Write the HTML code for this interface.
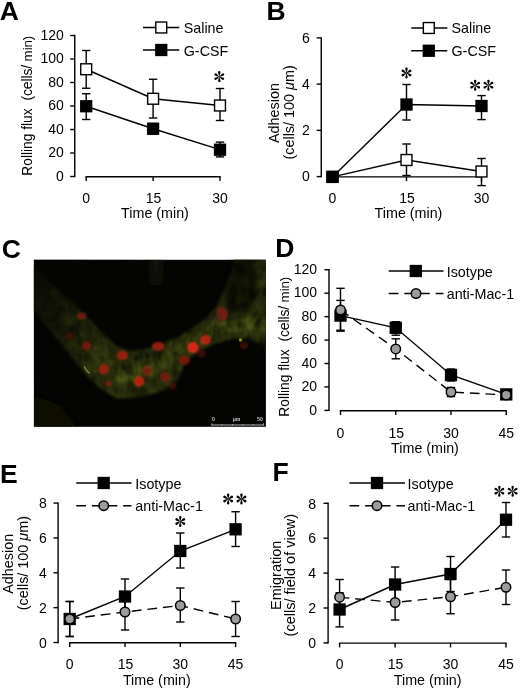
<!DOCTYPE html>
<html><head><meta charset="utf-8"><title>Figure</title>
<style>
html,body{margin:0;padding:0;background:#fff;}
svg{display:block;font-family:"Liberation Sans",sans-serif;}
text{stroke:none;fill:#000;}
</style></head><body>
<svg width="520" height="690" viewBox="0 0 520 690" style="opacity:0.999">
<rect width="520" height="690" fill="#fff"/>
<g stroke="#000" stroke-width="1.4" fill="#000">
<g stroke="none">
</g>
<text x="-0.30" y="19.60" font-size="26.5" font-weight="bold">A</text>
<line x1="74.75" y1="34.80" x2="74.75" y2="177.20" />
<line x1="70.15" y1="35.50" x2="74.75" y2="35.50" />
<text x="63.75" y="39.70" text-anchor="end" font-size="14" >120</text>
<line x1="70.15" y1="59.00" x2="74.75" y2="59.00" />
<text x="63.75" y="63.20" text-anchor="end" font-size="14" >100</text>
<line x1="70.15" y1="82.50" x2="74.75" y2="82.50" />
<text x="63.75" y="86.70" text-anchor="end" font-size="14" >80</text>
<line x1="70.15" y1="106.00" x2="74.75" y2="106.00" />
<text x="63.75" y="110.20" text-anchor="end" font-size="14" >60</text>
<line x1="70.15" y1="129.50" x2="74.75" y2="129.50" />
<text x="63.75" y="133.70" text-anchor="end" font-size="14" >40</text>
<line x1="70.15" y1="153.00" x2="74.75" y2="153.00" />
<text x="63.75" y="157.20" text-anchor="end" font-size="14" >20</text>
<line x1="70.15" y1="176.50" x2="74.75" y2="176.50" />
<text x="63.75" y="180.70" text-anchor="end" font-size="14" >0</text>
<line x1="85.50" y1="176.80" x2="220.70" y2="176.80" />
<line x1="86.20" y1="176.80" x2="86.20" y2="181.10" />
<text x="86.20" y="203.00" text-anchor="middle" font-size="14" >0</text>
<line x1="153.10" y1="176.80" x2="153.10" y2="181.10" />
<text x="153.60" y="203.00" text-anchor="middle" font-size="14" >15</text>
<line x1="220.00" y1="176.80" x2="220.00" y2="181.10" />
<text x="220.00" y="203.00" text-anchor="middle" font-size="14" >30</text>
<text x="155.00" y="217.50" text-anchor="middle" font-size="14.3" >Time (min)</text>
<text transform="translate(32.00,175.70) rotate(-90)" text-anchor="start" font-size="13.75" >Rolling flux&#160;<tspan dx="4" font-size="14" letter-spacing="-0.13">(cells/</tspan><tspan font-size="13.4" letter-spacing="-0.13"> min)</tspan></text>
<line x1="86.20" y1="50.50" x2="86.20" y2="88.25" />
<line x1="82.00" y1="50.50" x2="90.40" y2="50.50" />
<line x1="82.00" y1="88.25" x2="90.40" y2="88.25" />
<line x1="153.10" y1="79.25" x2="153.10" y2="118.00" />
<line x1="148.90" y1="79.25" x2="157.30" y2="79.25" />
<line x1="148.90" y1="118.00" x2="157.30" y2="118.00" />
<line x1="220.00" y1="88.50" x2="220.00" y2="120.50" />
<line x1="215.80" y1="88.50" x2="224.20" y2="88.50" />
<line x1="215.80" y1="120.50" x2="224.20" y2="120.50" />
<polyline points="86.20,69.25 153.10,98.75 220.00,105.50" fill="none"/>
<rect x="80.75" y="63.80" width="10.90" height="10.90" fill="#fff" stroke="#000" stroke-width="1.4"/>
<rect x="147.65" y="93.30" width="10.90" height="10.90" fill="#fff" stroke="#000" stroke-width="1.4"/>
<rect x="214.55" y="100.05" width="10.90" height="10.90" fill="#fff" stroke="#000" stroke-width="1.4"/>
<line x1="86.20" y1="93.75" x2="86.20" y2="119.50" />
<line x1="82.00" y1="93.75" x2="90.40" y2="93.75" />
<line x1="82.00" y1="119.50" x2="90.40" y2="119.50" />
<line x1="153.10" y1="123.50" x2="153.10" y2="134.00" />
<line x1="148.90" y1="123.50" x2="157.30" y2="123.50" />
<line x1="148.90" y1="134.00" x2="157.30" y2="134.00" />
<line x1="220.00" y1="142.10" x2="220.00" y2="156.90" />
<line x1="215.80" y1="142.10" x2="224.20" y2="142.10" />
<line x1="215.80" y1="156.90" x2="224.20" y2="156.90" />
<polyline points="86.20,106.25 153.10,128.75 220.00,149.70" fill="none"/>
<rect x="80.05" y="100.10" width="12.30" height="12.30" fill="#000" stroke="none"/>
<rect x="146.95" y="122.60" width="12.30" height="12.30" fill="#000" stroke="none"/>
<rect x="213.85" y="143.55" width="12.30" height="12.30" fill="#000" stroke="none"/>
<line x1="143.00" y1="27.50" x2="179.25" y2="27.50" />
<rect x="155.80" y="22.05" width="10.90" height="10.90" fill="#fff" stroke="#000" stroke-width="1.4"/>
<text x="183.75" y="32.80" text-anchor="start" font-size="14.3" >Saline</text>
<line x1="143.00" y1="50.00" x2="179.25" y2="50.00" />
<rect x="155.10" y="43.85" width="12.30" height="12.30" fill="#000" stroke="none"/>
<text x="183.75" y="55.50" text-anchor="start" font-size="14.3" >G-CSF</text>
<g transform="translate(219.30,76.60) scale(1.0)" stroke="none" fill="#000"><path d="M0,0.3 C-0.35,-1.4 -1.2,-3.2 -1.2,-4.3 A1.2,1.2 0 1,1 1.2,-4.3 C1.2,-3.2 0.35,-1.4 0,0.3 Z" transform="rotate(0)"/><path d="M0,0.3 C-0.35,-1.4 -1.2,-3.2 -1.2,-4.3 A1.2,1.2 0 1,1 1.2,-4.3 C1.2,-3.2 0.35,-1.4 0,0.3 Z" transform="rotate(60)"/><path d="M0,0.3 C-0.35,-1.4 -1.2,-3.2 -1.2,-4.3 A1.2,1.2 0 1,1 1.2,-4.3 C1.2,-3.2 0.35,-1.4 0,0.3 Z" transform="rotate(120)"/><path d="M0,0.3 C-0.35,-1.4 -1.2,-3.2 -1.2,-4.3 A1.2,1.2 0 1,1 1.2,-4.3 C1.2,-3.2 0.35,-1.4 0,0.3 Z" transform="rotate(180)"/><path d="M0,0.3 C-0.35,-1.4 -1.2,-3.2 -1.2,-4.3 A1.2,1.2 0 1,1 1.2,-4.3 C1.2,-3.2 0.35,-1.4 0,0.3 Z" transform="rotate(240)"/><path d="M0,0.3 C-0.35,-1.4 -1.2,-3.2 -1.2,-4.3 A1.2,1.2 0 1,1 1.2,-4.3 C1.2,-3.2 0.35,-1.4 0,0.3 Z" transform="rotate(300)"/></g>
<text x="266.40" y="20.20" font-size="26.5" font-weight="bold">B</text>
<line x1="321.25" y1="37.20" x2="321.25" y2="177.30" />
<line x1="316.65" y1="37.90" x2="321.25" y2="37.90" />
<text x="309.85" y="42.60" text-anchor="end" font-size="14" >6</text>
<line x1="316.65" y1="84.13" x2="321.25" y2="84.13" />
<text x="309.85" y="88.83" text-anchor="end" font-size="14" >4</text>
<line x1="316.65" y1="130.36" x2="321.25" y2="130.36" />
<text x="309.85" y="135.06" text-anchor="end" font-size="14" >2</text>
<line x1="316.65" y1="176.59" x2="321.25" y2="176.59" />
<text x="309.85" y="181.29" text-anchor="end" font-size="14" >0</text>
<line x1="331.80" y1="176.90" x2="482.20" y2="176.90" />
<line x1="332.50" y1="176.90" x2="332.50" y2="181.20" />
<text x="332.50" y="203.40" text-anchor="middle" font-size="14" >0</text>
<line x1="406.50" y1="176.90" x2="406.50" y2="181.20" />
<text x="407.00" y="203.40" text-anchor="middle" font-size="14" >15</text>
<line x1="481.50" y1="176.90" x2="481.50" y2="181.20" />
<text x="481.50" y="203.40" text-anchor="middle" font-size="14" >30</text>
<text x="408.50" y="218.00" text-anchor="middle" font-size="14.3" >Time (min)</text>
<text transform="translate(279.00,113.00) rotate(-90)" text-anchor="middle" font-size="14.4" >Adhesion</text>
<text transform="translate(294.00,112.40) rotate(-90)" text-anchor="middle" font-size="14.4" >(cells/ 100 <tspan font-style="italic">&#956;</tspan>m)</text>
<line x1="406.50" y1="144.00" x2="406.50" y2="175.50" />
<line x1="402.30" y1="144.00" x2="410.70" y2="144.00" />
<line x1="402.30" y1="175.50" x2="410.70" y2="175.50" />
<line x1="481.50" y1="158.50" x2="481.50" y2="185.60" />
<line x1="477.30" y1="158.50" x2="485.70" y2="158.50" />
<line x1="477.30" y1="185.60" x2="485.70" y2="185.60" />
<polyline points="332.50,176.90 406.50,160.00 481.50,171.50" fill="none"/>
<rect x="327.05" y="171.45" width="10.90" height="10.90" fill="#fff" stroke="#000" stroke-width="1.4"/>
<rect x="401.05" y="154.55" width="10.90" height="10.90" fill="#fff" stroke="#000" stroke-width="1.4"/>
<rect x="476.05" y="166.05" width="10.90" height="10.90" fill="#fff" stroke="#000" stroke-width="1.4"/>
<line x1="406.50" y1="84.50" x2="406.50" y2="120.00" />
<line x1="402.30" y1="84.50" x2="410.70" y2="84.50" />
<line x1="402.30" y1="120.00" x2="410.70" y2="120.00" />
<line x1="481.50" y1="95.60" x2="481.50" y2="119.60" />
<line x1="477.30" y1="95.60" x2="485.70" y2="95.60" />
<line x1="477.30" y1="119.60" x2="485.70" y2="119.60" />
<polyline points="332.50,176.90 406.50,104.50 481.50,106.00" fill="none"/>
<rect x="326.35" y="170.75" width="12.30" height="12.30" fill="#000" stroke="none"/>
<rect x="400.35" y="98.35" width="12.30" height="12.30" fill="#000" stroke="none"/>
<rect x="475.35" y="99.85" width="12.30" height="12.30" fill="#000" stroke="none"/>
<line x1="411.30" y1="28.00" x2="447.30" y2="28.00" />
<rect x="423.35" y="22.55" width="10.90" height="10.90" fill="#fff" stroke="#000" stroke-width="1.4"/>
<text x="451.50" y="33.20" text-anchor="start" font-size="14.3" >Saline</text>
<line x1="411.30" y1="50.75" x2="447.30" y2="50.75" />
<rect x="422.65" y="44.60" width="12.30" height="12.30" fill="#000" stroke="none"/>
<text x="451.50" y="56.00" text-anchor="start" font-size="14.3" >G-CSF</text>
<g transform="translate(406.50,73.00) scale(1.0)" stroke="none" fill="#000"><path d="M0,0.3 C-0.35,-1.4 -1.2,-3.2 -1.2,-4.3 A1.2,1.2 0 1,1 1.2,-4.3 C1.2,-3.2 0.35,-1.4 0,0.3 Z" transform="rotate(0)"/><path d="M0,0.3 C-0.35,-1.4 -1.2,-3.2 -1.2,-4.3 A1.2,1.2 0 1,1 1.2,-4.3 C1.2,-3.2 0.35,-1.4 0,0.3 Z" transform="rotate(60)"/><path d="M0,0.3 C-0.35,-1.4 -1.2,-3.2 -1.2,-4.3 A1.2,1.2 0 1,1 1.2,-4.3 C1.2,-3.2 0.35,-1.4 0,0.3 Z" transform="rotate(120)"/><path d="M0,0.3 C-0.35,-1.4 -1.2,-3.2 -1.2,-4.3 A1.2,1.2 0 1,1 1.2,-4.3 C1.2,-3.2 0.35,-1.4 0,0.3 Z" transform="rotate(180)"/><path d="M0,0.3 C-0.35,-1.4 -1.2,-3.2 -1.2,-4.3 A1.2,1.2 0 1,1 1.2,-4.3 C1.2,-3.2 0.35,-1.4 0,0.3 Z" transform="rotate(240)"/><path d="M0,0.3 C-0.35,-1.4 -1.2,-3.2 -1.2,-4.3 A1.2,1.2 0 1,1 1.2,-4.3 C1.2,-3.2 0.35,-1.4 0,0.3 Z" transform="rotate(300)"/></g>
<g transform="translate(475.15,85.20) scale(1.0)" stroke="none" fill="#000"><path d="M0,0.3 C-0.35,-1.4 -1.2,-3.2 -1.2,-4.3 A1.2,1.2 0 1,1 1.2,-4.3 C1.2,-3.2 0.35,-1.4 0,0.3 Z" transform="rotate(0)"/><path d="M0,0.3 C-0.35,-1.4 -1.2,-3.2 -1.2,-4.3 A1.2,1.2 0 1,1 1.2,-4.3 C1.2,-3.2 0.35,-1.4 0,0.3 Z" transform="rotate(60)"/><path d="M0,0.3 C-0.35,-1.4 -1.2,-3.2 -1.2,-4.3 A1.2,1.2 0 1,1 1.2,-4.3 C1.2,-3.2 0.35,-1.4 0,0.3 Z" transform="rotate(120)"/><path d="M0,0.3 C-0.35,-1.4 -1.2,-3.2 -1.2,-4.3 A1.2,1.2 0 1,1 1.2,-4.3 C1.2,-3.2 0.35,-1.4 0,0.3 Z" transform="rotate(180)"/><path d="M0,0.3 C-0.35,-1.4 -1.2,-3.2 -1.2,-4.3 A1.2,1.2 0 1,1 1.2,-4.3 C1.2,-3.2 0.35,-1.4 0,0.3 Z" transform="rotate(240)"/><path d="M0,0.3 C-0.35,-1.4 -1.2,-3.2 -1.2,-4.3 A1.2,1.2 0 1,1 1.2,-4.3 C1.2,-3.2 0.35,-1.4 0,0.3 Z" transform="rotate(300)"/></g>
<g transform="translate(488.45,85.20) scale(1.0)" stroke="none" fill="#000"><path d="M0,0.3 C-0.35,-1.4 -1.2,-3.2 -1.2,-4.3 A1.2,1.2 0 1,1 1.2,-4.3 C1.2,-3.2 0.35,-1.4 0,0.3 Z" transform="rotate(0)"/><path d="M0,0.3 C-0.35,-1.4 -1.2,-3.2 -1.2,-4.3 A1.2,1.2 0 1,1 1.2,-4.3 C1.2,-3.2 0.35,-1.4 0,0.3 Z" transform="rotate(60)"/><path d="M0,0.3 C-0.35,-1.4 -1.2,-3.2 -1.2,-4.3 A1.2,1.2 0 1,1 1.2,-4.3 C1.2,-3.2 0.35,-1.4 0,0.3 Z" transform="rotate(120)"/><path d="M0,0.3 C-0.35,-1.4 -1.2,-3.2 -1.2,-4.3 A1.2,1.2 0 1,1 1.2,-4.3 C1.2,-3.2 0.35,-1.4 0,0.3 Z" transform="rotate(180)"/><path d="M0,0.3 C-0.35,-1.4 -1.2,-3.2 -1.2,-4.3 A1.2,1.2 0 1,1 1.2,-4.3 C1.2,-3.2 0.35,-1.4 0,0.3 Z" transform="rotate(240)"/><path d="M0,0.3 C-0.35,-1.4 -1.2,-3.2 -1.2,-4.3 A1.2,1.2 0 1,1 1.2,-4.3 C1.2,-3.2 0.35,-1.4 0,0.3 Z" transform="rotate(300)"/></g>
<text x="1.70" y="258.20" font-size="26.5" font-weight="bold">C</text>
<g stroke="none">
<defs>
<clipPath id="mc"><rect x="33.9" y="259.8" width="232" height="167"/></clipPath>
<filter id="b5" filterUnits="userSpaceOnUse" x="0" y="230" width="300" height="230"><feGaussianBlur stdDeviation="4"/></filter>
<filter id="b3" filterUnits="userSpaceOnUse" x="20" y="245" width="260" height="195" color-interpolation-filters="sRGB">
<feGaussianBlur stdDeviation="1.8" result="bl"/>
<feTurbulence type="fractalNoise" baseFrequency="0.11 0.08" numOctaves="3" seed="11" result="nz"/>
<feColorMatrix in="nz" type="matrix" values="1.0 1.0 0 0 -0.5  1.0 1.0 0 0 -0.5  1.0 1.0 0 0 -0.5  0 0 0 0 1" result="gn"/>
<feComposite in="bl" in2="gn" operator="arithmetic" k1="1.0" k2="0.42" k3="0" k4="0"/>
</filter>
<filter id="b1" x="-50%" y="-50%" width="200%" height="200%"><feGaussianBlur stdDeviation="1.1"/></filter>
<filter id="b04" x="-50%" y="-50%" width="200%" height="200%"><feGaussianBlur stdDeviation="0.5"/></filter>
<filter id="b05" x="-50%" y="-50%" width="200%" height="200%"><feGaussianBlur stdDeviation="1.0"/></filter>
<linearGradient id="fadeL" gradientUnits="userSpaceOnUse" x1="38" y1="283" x2="108" y2="353">
<stop offset="0" stop-color="#040403" stop-opacity="0.8"/><stop offset="0.4" stop-color="#040403" stop-opacity="0.55"/><stop offset="0.8" stop-color="#040403" stop-opacity="0.18"/><stop offset="1" stop-color="#040403" stop-opacity="0"/>
</linearGradient>
</defs>
<rect x="33.9" y="259.8" width="232" height="167" fill="#040403"/>
<g clip-path="url(#mc)">
<!-- faint structures -->
<g filter="url(#b5)">
<path d="M150,255 L162,255 L160,285 L152,285 Z" fill="#12160a"/>
<path d="M34,395 L60,405 L80,430 L34,430 Z" fill="#070905"/>
</g>
<!-- main vessel + upper-right branch -->
<g filter="url(#b3)">
<path d="M30,264 L48,280 L76,305 L100,330 L116,346 L130,351 L150,348 L178,337 L200,323 L214,310 L222,296 L230,276 L236,255 L270,255 L270,350 L262,344 L247,340 L233,338.5 L214,344 L198,352 L185,362 L178,380 L165,390 L141,397 L118,399 L99,388 L82,370 L62,345 L30,306 Z" fill="#272d0b"/>
<path d="M96,352 L120,376 L150,372 L185,348 L215,328 L262,322" stroke="#444a12" stroke-width="12" opacity="0.55" fill="none" stroke-linecap="round" stroke-linejoin="round"/>
</g>
<g filter="url(#b5)" fill="none" stroke-linecap="round" stroke-linejoin="round">
<path d="M251,272 L257,300" stroke="#040403" stroke-width="7" opacity="0.55"/>
<path d="M238,262 L228,295" stroke="#040403" stroke-width="10" opacity="0.35"/>
<path d="M247,252 L239,300" stroke="#040403" stroke-width="30" opacity="0.55"/>
</g>
<path d="M30,255 L150,255 L150,340 L105,390 L30,390 Z" fill="url(#fadeL)"/>
<!-- bright streaks -->
<g filter="url(#b04)">
<path d="M84.5,366.500 Q85.5,370.500 89.5,373" stroke="#94a448" stroke-width="1.2" fill="none" stroke-linecap="round" opacity="0.75"/>
<circle cx="240.500" cy="340" r="1.7" fill="#86a81e" opacity="0.85"/>
</g>
<!-- red cells : ring style -->
<g filter="url(#b05)" stroke-width="1.4">
<ellipse cx="82" cy="316" rx="3.6" ry="2.6" fill="#7c1a0c" stroke="#8c200e" opacity="0.85"/>
<ellipse cx="69.5" cy="336" rx="2.3" ry="2.8" fill="#4c120a" stroke="#561409" opacity="0.7"/>
<ellipse cx="86.5" cy="345.8" rx="4.0" ry="3.6" fill="#7c1a0c" stroke="#8c200e" opacity="0.85"/>
<ellipse cx="122.3" cy="355.4" rx="4.7" ry="3.6" fill="#9c1e0e" stroke="#b82612" opacity="0.9"/>
<ellipse cx="103.8" cy="369.2" rx="4.3" ry="4.3" fill="#9c1e0e" stroke="#b82612" opacity="0.9"/>
<ellipse cx="139.2" cy="381.5" rx="4.4" ry="4.2" fill="#b82010" stroke="#d42c16" opacity="0.95"/>
<ellipse cx="147" cy="370.8" rx="4.1" ry="3.9" fill="#7c1a0c" stroke="#8c200e" opacity="0.85"/>
<ellipse cx="108.5" cy="383.7" rx="2.3" ry="2.3" fill="#7c1a0c" stroke="#8c200e" opacity="0.85"/>
<ellipse cx="158.3" cy="346.2" rx="5.3" ry="3.6" fill="#9c1e0e" stroke="#b82612" opacity="0.9"/>
<ellipse cx="193" cy="347.5" rx="4.7" ry="4.7" fill="#d82212" stroke="#f03420" opacity="1.0"/>
<ellipse cx="205.8" cy="339.8" rx="4.2" ry="4.0" fill="#b82010" stroke="#d42c16" opacity="0.95"/>
<ellipse cx="184.3" cy="360.2" rx="4.8" ry="4.0" fill="#7c1a0c" stroke="#8c200e" opacity="0.85"/>
<ellipse cx="222.3" cy="313.8" rx="4.4" ry="6.2" fill="#7c1a0c" stroke="#8c200e" opacity="0.85"/>
<ellipse cx="165.4" cy="377" rx="4.3" ry="3.9" fill="#7c1a0c" stroke="#8c200e" opacity="0.85"/>
<ellipse cx="201.5" cy="353.5" rx="3.6" ry="3.2" fill="#4c120a" stroke="#561409" opacity="0.7"/>
<ellipse cx="173" cy="386" rx="2.7" ry="2.7" fill="#4c120a" stroke="#561409" opacity="0.7"/>
<ellipse cx="244" cy="345.5" rx="3.6" ry="2.7" fill="#4c120a" stroke="#561409" opacity="0.7"/>
</g>
<!-- scale bar -->
<g font-size="5.2" font-weight="bold" text-anchor="middle">
<text x="213.5" y="421.3" style="fill:#c8c8c8">0</text>
<text x="236.6" y="421.3" style="fill:#c8c8c8">&#956;m</text>
<text x="260" y="421.3" style="fill:#c8c8c8">50</text>
</g>
<path d="M211.4,425 H263.8" stroke="#c8c8c8" stroke-width="0.9" fill="none"/>
<path d="M211.7,423.2 V425.3 M222.1,424 V425.3 M232.500,424 V425.3 M242.9,424 V425.3 M253.3,424 V425.3 M263.500,423.2 V425.3" stroke="#c8c8c8" stroke-width="0.7" fill="none"/>
</g>
</g>

<text x="275.30" y="257.00" font-size="26.5" font-weight="bold">D</text>
<line x1="329.00" y1="269.05" x2="329.00" y2="411.10" />
<line x1="324.40" y1="269.75" x2="329.00" y2="269.75" />
<text x="317.00" y="273.95" text-anchor="end" font-size="14" >120</text>
<line x1="324.40" y1="293.19" x2="329.00" y2="293.19" />
<text x="317.00" y="297.39" text-anchor="end" font-size="14" >100</text>
<line x1="324.40" y1="316.63" x2="329.00" y2="316.63" />
<text x="317.00" y="320.83" text-anchor="end" font-size="14" >80</text>
<line x1="324.40" y1="340.07" x2="329.00" y2="340.07" />
<text x="317.00" y="344.27" text-anchor="end" font-size="14" >60</text>
<line x1="324.40" y1="363.51" x2="329.00" y2="363.51" />
<text x="317.00" y="367.71" text-anchor="end" font-size="14" >40</text>
<line x1="324.40" y1="386.95" x2="329.00" y2="386.95" />
<text x="317.00" y="391.15" text-anchor="end" font-size="14" >20</text>
<line x1="324.40" y1="410.39" x2="329.00" y2="410.39" />
<text x="317.00" y="414.59" text-anchor="end" font-size="14" >0</text>
<line x1="339.80" y1="410.70" x2="506.95" y2="410.70" />
<line x1="340.50" y1="410.70" x2="340.50" y2="415.00" />
<text x="340.50" y="437.50" text-anchor="middle" font-size="14" >0</text>
<line x1="395.75" y1="410.70" x2="395.75" y2="415.00" />
<text x="396.25" y="437.50" text-anchor="middle" font-size="14" >15</text>
<line x1="451.00" y1="410.70" x2="451.00" y2="415.00" />
<text x="451.00" y="437.50" text-anchor="middle" font-size="14" >30</text>
<line x1="506.25" y1="410.70" x2="506.25" y2="415.00" />
<text x="506.25" y="437.50" text-anchor="middle" font-size="14" >45</text>
<text x="425.00" y="452.50" text-anchor="middle" font-size="14.3" >Time (min)</text>
<text transform="translate(288.80,416.70) rotate(-90)" text-anchor="start" font-size="13.75" >Rolling flux&#160;<tspan dx="4" font-size="14" letter-spacing="-0.13">(cells/</tspan><tspan font-size="13.4" letter-spacing="-0.13"> min)</tspan></text>
<line x1="340.50" y1="300.40" x2="340.50" y2="330.20" />
<line x1="336.30" y1="300.40" x2="344.70" y2="300.40" />
<line x1="336.30" y1="330.20" x2="344.70" y2="330.20" />
<line x1="395.75" y1="321.70" x2="395.75" y2="335.20" />
<line x1="391.55" y1="321.70" x2="399.95" y2="321.70" />
<line x1="391.55" y1="335.20" x2="399.95" y2="335.20" />
<line x1="451.00" y1="369.00" x2="451.00" y2="381.00" />
<line x1="446.80" y1="369.00" x2="455.20" y2="369.00" />
<line x1="446.80" y1="381.00" x2="455.20" y2="381.00" />
<line x1="506.25" y1="390.00" x2="506.25" y2="398.00" />
<line x1="502.05" y1="390.00" x2="510.45" y2="390.00" />
<line x1="502.05" y1="398.00" x2="510.45" y2="398.00" />
<polyline points="340.50,315.60 395.75,327.80 451.00,375.00 506.25,394.40" fill="none"/>
<rect x="334.35" y="309.45" width="12.30" height="12.30" fill="#000" stroke="none"/>
<rect x="389.60" y="321.65" width="12.30" height="12.30" fill="#000" stroke="none"/>
<rect x="444.85" y="368.85" width="12.30" height="12.30" fill="#000" stroke="none"/>
<rect x="500.10" y="388.25" width="12.30" height="12.30" fill="#000" stroke="none"/>
<line x1="340.50" y1="288.30" x2="340.50" y2="331.20" />
<line x1="336.30" y1="288.30" x2="344.70" y2="288.30" />
<line x1="336.30" y1="331.20" x2="344.70" y2="331.20" />
<line x1="395.75" y1="338.80" x2="395.75" y2="358.80" />
<line x1="391.55" y1="338.80" x2="399.95" y2="338.80" />
<line x1="391.55" y1="358.80" x2="399.95" y2="358.80" />
<line x1="451.00" y1="387.50" x2="451.00" y2="396.50" />
<line x1="446.80" y1="387.50" x2="455.20" y2="387.50" />
<line x1="446.80" y1="396.50" x2="455.20" y2="396.50" />
<line x1="506.25" y1="391.00" x2="506.25" y2="398.00" />
<line x1="502.05" y1="391.00" x2="510.45" y2="391.00" />
<line x1="502.05" y1="398.00" x2="510.45" y2="398.00" />
<polyline points="340.50,310.00 395.75,348.90 451.00,392.00 506.25,395.00" fill="none" stroke-dasharray="9.75 5.9"/>
<circle cx="340.50" cy="310.00" r="4.75" fill="#9c9c9c" stroke="#000" stroke-width="1.5"/>
<circle cx="395.75" cy="348.90" r="4.75" fill="#9c9c9c" stroke="#000" stroke-width="1.5"/>
<circle cx="451.00" cy="392.00" r="4.75" fill="#9c9c9c" stroke="#000" stroke-width="1.5"/>
<circle cx="506.25" cy="395.00" r="4.75" fill="#9c9c9c" stroke="#000" stroke-width="1.5"/>
<line x1="388.70" y1="271.00" x2="443.50" y2="271.00" />
<rect x="409.65" y="264.85" width="12.30" height="12.30" fill="#000" stroke="none"/>
<text x="446.70" y="276.50" text-anchor="start" font-size="14.3" >Isotype</text>
<line x1="388.70" y1="293.50" x2="443.50" y2="293.50" stroke-dasharray="9.75 5.9"/>
<circle cx="416.00" cy="293.50" r="4.75" fill="#9c9c9c" stroke="#000" stroke-width="1.5"/>
<text x="446.70" y="299.20" text-anchor="start" font-size="14.3" >anti-Mac-1</text>
<text x="0.00" y="482.90" font-size="26.5" font-weight="bold">E</text>
<line x1="58.10" y1="502.40" x2="58.10" y2="643.20" />
<line x1="53.50" y1="503.10" x2="58.10" y2="503.10" />
<text x="46.80" y="508.20" text-anchor="end" font-size="14" >8</text>
<line x1="53.50" y1="537.95" x2="58.10" y2="537.95" />
<text x="46.80" y="543.05" text-anchor="end" font-size="14" >6</text>
<line x1="53.50" y1="572.80" x2="58.10" y2="572.80" />
<text x="46.80" y="577.90" text-anchor="end" font-size="14" >4</text>
<line x1="53.50" y1="607.65" x2="58.10" y2="607.65" />
<text x="46.80" y="612.75" text-anchor="end" font-size="14" >2</text>
<line x1="53.50" y1="642.50" x2="58.10" y2="642.50" />
<text x="46.80" y="647.60" text-anchor="end" font-size="14" >0</text>
<line x1="69.00" y1="642.80" x2="236.30" y2="642.80" />
<line x1="69.70" y1="642.80" x2="69.70" y2="647.10" />
<text x="69.70" y="669.20" text-anchor="middle" font-size="14" >0</text>
<line x1="125.00" y1="642.80" x2="125.00" y2="647.10" />
<text x="125.50" y="669.20" text-anchor="middle" font-size="14" >15</text>
<line x1="180.30" y1="642.80" x2="180.30" y2="647.10" />
<text x="180.30" y="669.20" text-anchor="middle" font-size="14" >30</text>
<line x1="235.60" y1="642.80" x2="235.60" y2="647.10" />
<text x="235.60" y="669.20" text-anchor="middle" font-size="14" >45</text>
<text x="156.80" y="684.90" text-anchor="middle" font-size="14.3" >Time (min)</text>
<text transform="translate(13.20,563.75) rotate(-90)" text-anchor="middle" font-size="14.4" >Adhesion</text>
<text transform="translate(28.10,563.10) rotate(-90)" text-anchor="middle" font-size="14.4" >(cells/ 100 <tspan font-style="italic">&#956;</tspan>m)</text>
<line x1="69.70" y1="601.50" x2="69.70" y2="636.50" />
<line x1="65.50" y1="601.50" x2="73.90" y2="601.50" />
<line x1="65.50" y1="636.50" x2="73.90" y2="636.50" />
<line x1="125.00" y1="579.00" x2="125.00" y2="614.00" />
<line x1="120.80" y1="579.00" x2="129.20" y2="579.00" />
<line x1="120.80" y1="614.00" x2="129.20" y2="614.00" />
<line x1="180.30" y1="533.00" x2="180.30" y2="568.00" />
<line x1="176.10" y1="533.00" x2="184.50" y2="533.00" />
<line x1="176.10" y1="568.00" x2="184.50" y2="568.00" />
<line x1="235.60" y1="511.75" x2="235.60" y2="546.50" />
<line x1="231.40" y1="511.75" x2="239.80" y2="511.75" />
<line x1="231.40" y1="546.50" x2="239.80" y2="546.50" />
<polyline points="69.70,619.00 125.00,596.50 180.30,551.00 235.60,529.30" fill="none"/>
<rect x="63.55" y="612.85" width="12.30" height="12.30" fill="#000" stroke="none"/>
<rect x="118.85" y="590.35" width="12.30" height="12.30" fill="#000" stroke="none"/>
<rect x="174.15" y="544.85" width="12.30" height="12.30" fill="#000" stroke="none"/>
<rect x="229.45" y="523.15" width="12.30" height="12.30" fill="#000" stroke="none"/>
<line x1="69.70" y1="601.50" x2="69.70" y2="636.50" />
<line x1="65.50" y1="601.50" x2="73.90" y2="601.50" />
<line x1="65.50" y1="636.50" x2="73.90" y2="636.50" />
<line x1="125.00" y1="594.00" x2="125.00" y2="630.00" />
<line x1="120.80" y1="594.00" x2="129.20" y2="594.00" />
<line x1="120.80" y1="630.00" x2="129.20" y2="630.00" />
<line x1="180.30" y1="588.00" x2="180.30" y2="622.00" />
<line x1="176.10" y1="588.00" x2="184.50" y2="588.00" />
<line x1="176.10" y1="622.00" x2="184.50" y2="622.00" />
<line x1="235.60" y1="601.50" x2="235.60" y2="636.50" />
<line x1="231.40" y1="601.50" x2="239.80" y2="601.50" />
<line x1="231.40" y1="636.50" x2="239.80" y2="636.50" />
<polyline points="69.70,619.00 125.00,612.00 180.30,605.50 235.60,619.00" fill="none" stroke-dasharray="9.75 5.9"/>
<circle cx="69.70" cy="619.00" r="4.75" fill="#9c9c9c" stroke="#000" stroke-width="1.5"/>
<circle cx="125.00" cy="612.00" r="4.75" fill="#9c9c9c" stroke="#000" stroke-width="1.5"/>
<circle cx="180.30" cy="605.50" r="4.75" fill="#9c9c9c" stroke="#000" stroke-width="1.5"/>
<circle cx="235.60" cy="619.00" r="4.75" fill="#9c9c9c" stroke="#000" stroke-width="1.5"/>
<line x1="76.25" y1="483.00" x2="131.50" y2="483.00" />
<rect x="97.55" y="476.85" width="12.30" height="12.30" fill="#000" stroke="none"/>
<text x="135.30" y="488.50" text-anchor="start" font-size="14.3" >Isotype</text>
<line x1="76.25" y1="505.70" x2="131.50" y2="505.70" stroke-dasharray="9.75 5.9"/>
<circle cx="103.70" cy="505.70" r="4.75" fill="#9c9c9c" stroke="#000" stroke-width="1.5"/>
<text x="135.30" y="510.70" text-anchor="start" font-size="14.3" >anti-Mac-1</text>
<g transform="translate(180.30,521.50) scale(1.0)" stroke="none" fill="#000"><path d="M0,0.3 C-0.35,-1.4 -1.2,-3.2 -1.2,-4.3 A1.2,1.2 0 1,1 1.2,-4.3 C1.2,-3.2 0.35,-1.4 0,0.3 Z" transform="rotate(0)"/><path d="M0,0.3 C-0.35,-1.4 -1.2,-3.2 -1.2,-4.3 A1.2,1.2 0 1,1 1.2,-4.3 C1.2,-3.2 0.35,-1.4 0,0.3 Z" transform="rotate(60)"/><path d="M0,0.3 C-0.35,-1.4 -1.2,-3.2 -1.2,-4.3 A1.2,1.2 0 1,1 1.2,-4.3 C1.2,-3.2 0.35,-1.4 0,0.3 Z" transform="rotate(120)"/><path d="M0,0.3 C-0.35,-1.4 -1.2,-3.2 -1.2,-4.3 A1.2,1.2 0 1,1 1.2,-4.3 C1.2,-3.2 0.35,-1.4 0,0.3 Z" transform="rotate(180)"/><path d="M0,0.3 C-0.35,-1.4 -1.2,-3.2 -1.2,-4.3 A1.2,1.2 0 1,1 1.2,-4.3 C1.2,-3.2 0.35,-1.4 0,0.3 Z" transform="rotate(240)"/><path d="M0,0.3 C-0.35,-1.4 -1.2,-3.2 -1.2,-4.3 A1.2,1.2 0 1,1 1.2,-4.3 C1.2,-3.2 0.35,-1.4 0,0.3 Z" transform="rotate(300)"/></g>
<g transform="translate(228.15,499.00) scale(1.0)" stroke="none" fill="#000"><path d="M0,0.3 C-0.35,-1.4 -1.2,-3.2 -1.2,-4.3 A1.2,1.2 0 1,1 1.2,-4.3 C1.2,-3.2 0.35,-1.4 0,0.3 Z" transform="rotate(0)"/><path d="M0,0.3 C-0.35,-1.4 -1.2,-3.2 -1.2,-4.3 A1.2,1.2 0 1,1 1.2,-4.3 C1.2,-3.2 0.35,-1.4 0,0.3 Z" transform="rotate(60)"/><path d="M0,0.3 C-0.35,-1.4 -1.2,-3.2 -1.2,-4.3 A1.2,1.2 0 1,1 1.2,-4.3 C1.2,-3.2 0.35,-1.4 0,0.3 Z" transform="rotate(120)"/><path d="M0,0.3 C-0.35,-1.4 -1.2,-3.2 -1.2,-4.3 A1.2,1.2 0 1,1 1.2,-4.3 C1.2,-3.2 0.35,-1.4 0,0.3 Z" transform="rotate(180)"/><path d="M0,0.3 C-0.35,-1.4 -1.2,-3.2 -1.2,-4.3 A1.2,1.2 0 1,1 1.2,-4.3 C1.2,-3.2 0.35,-1.4 0,0.3 Z" transform="rotate(240)"/><path d="M0,0.3 C-0.35,-1.4 -1.2,-3.2 -1.2,-4.3 A1.2,1.2 0 1,1 1.2,-4.3 C1.2,-3.2 0.35,-1.4 0,0.3 Z" transform="rotate(300)"/></g>
<g transform="translate(241.45,499.00) scale(1.0)" stroke="none" fill="#000"><path d="M0,0.3 C-0.35,-1.4 -1.2,-3.2 -1.2,-4.3 A1.2,1.2 0 1,1 1.2,-4.3 C1.2,-3.2 0.35,-1.4 0,0.3 Z" transform="rotate(0)"/><path d="M0,0.3 C-0.35,-1.4 -1.2,-3.2 -1.2,-4.3 A1.2,1.2 0 1,1 1.2,-4.3 C1.2,-3.2 0.35,-1.4 0,0.3 Z" transform="rotate(60)"/><path d="M0,0.3 C-0.35,-1.4 -1.2,-3.2 -1.2,-4.3 A1.2,1.2 0 1,1 1.2,-4.3 C1.2,-3.2 0.35,-1.4 0,0.3 Z" transform="rotate(120)"/><path d="M0,0.3 C-0.35,-1.4 -1.2,-3.2 -1.2,-4.3 A1.2,1.2 0 1,1 1.2,-4.3 C1.2,-3.2 0.35,-1.4 0,0.3 Z" transform="rotate(180)"/><path d="M0,0.3 C-0.35,-1.4 -1.2,-3.2 -1.2,-4.3 A1.2,1.2 0 1,1 1.2,-4.3 C1.2,-3.2 0.35,-1.4 0,0.3 Z" transform="rotate(240)"/><path d="M0,0.3 C-0.35,-1.4 -1.2,-3.2 -1.2,-4.3 A1.2,1.2 0 1,1 1.2,-4.3 C1.2,-3.2 0.35,-1.4 0,0.3 Z" transform="rotate(300)"/></g>
<text x="272.60" y="481.20" font-size="26.5" font-weight="bold">F</text>
<line x1="328.10" y1="502.60" x2="328.10" y2="643.50" />
<line x1="323.50" y1="503.30" x2="328.10" y2="503.30" />
<text x="316.10" y="508.50" text-anchor="end" font-size="14" >8</text>
<line x1="323.50" y1="538.20" x2="328.10" y2="538.20" />
<text x="316.10" y="543.40" text-anchor="end" font-size="14" >6</text>
<line x1="323.50" y1="573.10" x2="328.10" y2="573.10" />
<text x="316.10" y="578.30" text-anchor="end" font-size="14" >4</text>
<line x1="323.50" y1="608.00" x2="328.10" y2="608.00" />
<text x="316.10" y="613.20" text-anchor="end" font-size="14" >2</text>
<line x1="323.50" y1="642.90" x2="328.10" y2="642.90" />
<text x="316.10" y="648.10" text-anchor="end" font-size="14" >0</text>
<line x1="338.90" y1="643.10" x2="506.70" y2="643.10" />
<line x1="339.60" y1="643.10" x2="339.60" y2="647.40" />
<text x="339.60" y="669.20" text-anchor="middle" font-size="14" >0</text>
<line x1="395.10" y1="643.10" x2="395.10" y2="647.40" />
<text x="395.60" y="669.20" text-anchor="middle" font-size="14" >15</text>
<line x1="450.50" y1="643.10" x2="450.50" y2="647.40" />
<text x="450.50" y="669.20" text-anchor="middle" font-size="14" >30</text>
<line x1="506.00" y1="643.10" x2="506.00" y2="647.40" />
<text x="506.00" y="669.20" text-anchor="middle" font-size="14" >45</text>
<text x="427.70" y="684.90" text-anchor="middle" font-size="14.3" >Time (min)</text>
<text transform="translate(280.90,575.30) rotate(-90)" text-anchor="middle" font-size="14.5" >Emigration</text>
<text transform="translate(295.10,575.20) rotate(-90)" text-anchor="middle" font-size="14.5" >(cells/ field of view)</text>
<line x1="339.60" y1="592.80" x2="339.60" y2="626.90" />
<line x1="335.40" y1="592.80" x2="343.80" y2="592.80" />
<line x1="335.40" y1="626.90" x2="343.80" y2="626.90" />
<line x1="395.10" y1="567.00" x2="395.10" y2="602.00" />
<line x1="390.90" y1="567.00" x2="399.30" y2="567.00" />
<line x1="390.90" y1="602.00" x2="399.30" y2="602.00" />
<line x1="450.50" y1="556.50" x2="450.50" y2="591.50" />
<line x1="446.30" y1="556.50" x2="454.70" y2="556.50" />
<line x1="446.30" y1="591.50" x2="454.70" y2="591.50" />
<line x1="506.00" y1="502.50" x2="506.00" y2="537.00" />
<line x1="501.80" y1="502.50" x2="510.20" y2="502.50" />
<line x1="501.80" y1="537.00" x2="510.20" y2="537.00" />
<polyline points="339.60,609.50 395.10,584.50 450.50,574.00 506.00,519.75" fill="none"/>
<rect x="333.45" y="603.35" width="12.30" height="12.30" fill="#000" stroke="none"/>
<rect x="388.95" y="578.35" width="12.30" height="12.30" fill="#000" stroke="none"/>
<rect x="444.35" y="567.85" width="12.30" height="12.30" fill="#000" stroke="none"/>
<rect x="499.85" y="513.60" width="12.30" height="12.30" fill="#000" stroke="none"/>
<line x1="339.60" y1="579.50" x2="339.60" y2="614.00" />
<line x1="335.40" y1="579.50" x2="343.80" y2="579.50" />
<line x1="335.40" y1="614.00" x2="343.80" y2="614.00" />
<line x1="395.10" y1="585.00" x2="395.10" y2="620.00" />
<line x1="390.90" y1="585.00" x2="399.30" y2="585.00" />
<line x1="390.90" y1="620.00" x2="399.30" y2="620.00" />
<line x1="450.50" y1="579.50" x2="450.50" y2="613.75" />
<line x1="446.30" y1="579.50" x2="454.70" y2="579.50" />
<line x1="446.30" y1="613.75" x2="454.70" y2="613.75" />
<line x1="506.00" y1="570.00" x2="506.00" y2="604.50" />
<line x1="501.80" y1="570.00" x2="510.20" y2="570.00" />
<line x1="501.80" y1="604.50" x2="510.20" y2="604.50" />
<polyline points="339.60,597.20 395.10,602.50 450.50,596.75 506.00,587.30" fill="none" stroke-dasharray="9.75 5.9"/>
<circle cx="339.60" cy="597.20" r="4.75" fill="#9c9c9c" stroke="#000" stroke-width="1.5"/>
<circle cx="395.10" cy="602.50" r="4.75" fill="#9c9c9c" stroke="#000" stroke-width="1.5"/>
<circle cx="450.50" cy="596.75" r="4.75" fill="#9c9c9c" stroke="#000" stroke-width="1.5"/>
<circle cx="506.00" cy="587.30" r="4.75" fill="#9c9c9c" stroke="#000" stroke-width="1.5"/>
<line x1="349.50" y1="483.00" x2="405.00" y2="483.00" />
<rect x="370.85" y="476.85" width="12.30" height="12.30" fill="#000" stroke="none"/>
<text x="407.60" y="488.50" text-anchor="start" font-size="14.3" >Isotype</text>
<line x1="349.50" y1="505.70" x2="405.00" y2="505.70" stroke-dasharray="9.75 5.9"/>
<circle cx="377.00" cy="505.70" r="4.75" fill="#9c9c9c" stroke="#000" stroke-width="1.5"/>
<text x="407.60" y="510.70" text-anchor="start" font-size="14.3" >anti-Mac-1</text>
<g transform="translate(499.35,491.20) scale(1.0)" stroke="none" fill="#000"><path d="M0,0.3 C-0.35,-1.4 -1.2,-3.2 -1.2,-4.3 A1.2,1.2 0 1,1 1.2,-4.3 C1.2,-3.2 0.35,-1.4 0,0.3 Z" transform="rotate(0)"/><path d="M0,0.3 C-0.35,-1.4 -1.2,-3.2 -1.2,-4.3 A1.2,1.2 0 1,1 1.2,-4.3 C1.2,-3.2 0.35,-1.4 0,0.3 Z" transform="rotate(60)"/><path d="M0,0.3 C-0.35,-1.4 -1.2,-3.2 -1.2,-4.3 A1.2,1.2 0 1,1 1.2,-4.3 C1.2,-3.2 0.35,-1.4 0,0.3 Z" transform="rotate(120)"/><path d="M0,0.3 C-0.35,-1.4 -1.2,-3.2 -1.2,-4.3 A1.2,1.2 0 1,1 1.2,-4.3 C1.2,-3.2 0.35,-1.4 0,0.3 Z" transform="rotate(180)"/><path d="M0,0.3 C-0.35,-1.4 -1.2,-3.2 -1.2,-4.3 A1.2,1.2 0 1,1 1.2,-4.3 C1.2,-3.2 0.35,-1.4 0,0.3 Z" transform="rotate(240)"/><path d="M0,0.3 C-0.35,-1.4 -1.2,-3.2 -1.2,-4.3 A1.2,1.2 0 1,1 1.2,-4.3 C1.2,-3.2 0.35,-1.4 0,0.3 Z" transform="rotate(300)"/></g>
<g transform="translate(512.65,491.20) scale(1.0)" stroke="none" fill="#000"><path d="M0,0.3 C-0.35,-1.4 -1.2,-3.2 -1.2,-4.3 A1.2,1.2 0 1,1 1.2,-4.3 C1.2,-3.2 0.35,-1.4 0,0.3 Z" transform="rotate(0)"/><path d="M0,0.3 C-0.35,-1.4 -1.2,-3.2 -1.2,-4.3 A1.2,1.2 0 1,1 1.2,-4.3 C1.2,-3.2 0.35,-1.4 0,0.3 Z" transform="rotate(60)"/><path d="M0,0.3 C-0.35,-1.4 -1.2,-3.2 -1.2,-4.3 A1.2,1.2 0 1,1 1.2,-4.3 C1.2,-3.2 0.35,-1.4 0,0.3 Z" transform="rotate(120)"/><path d="M0,0.3 C-0.35,-1.4 -1.2,-3.2 -1.2,-4.3 A1.2,1.2 0 1,1 1.2,-4.3 C1.2,-3.2 0.35,-1.4 0,0.3 Z" transform="rotate(180)"/><path d="M0,0.3 C-0.35,-1.4 -1.2,-3.2 -1.2,-4.3 A1.2,1.2 0 1,1 1.2,-4.3 C1.2,-3.2 0.35,-1.4 0,0.3 Z" transform="rotate(240)"/><path d="M0,0.3 C-0.35,-1.4 -1.2,-3.2 -1.2,-4.3 A1.2,1.2 0 1,1 1.2,-4.3 C1.2,-3.2 0.35,-1.4 0,0.3 Z" transform="rotate(300)"/></g>
</g>
</svg>
</body></html>
